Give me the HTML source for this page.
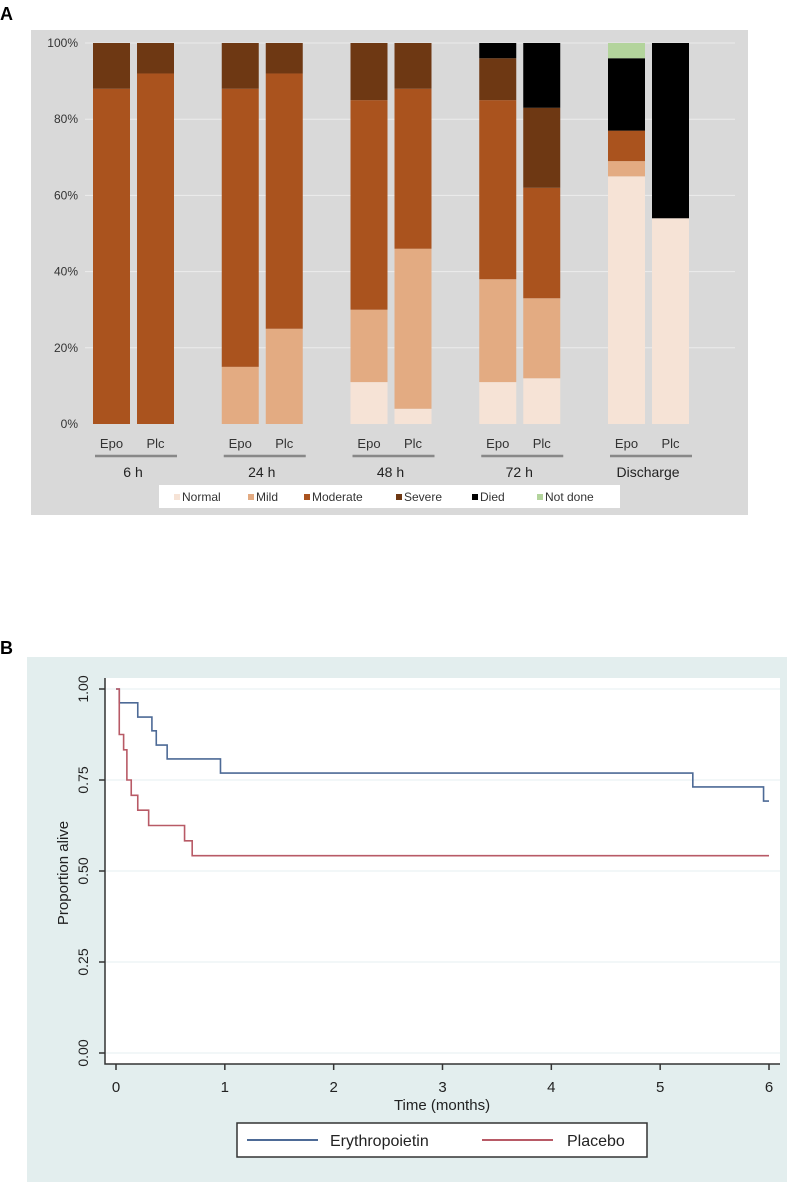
<!DOCTYPE html>
<html><head><meta charset="utf-8"><style>
body{margin:0;background:#fff;width:787px;height:1182px;overflow:hidden;font-family:"Liberation Sans",Arial,sans-serif}
svg{position:absolute;left:0;top:0}
</style></head><body>
<svg width="787" height="1182" id="fig">
<text x="0" y="20" font-size="18" font-weight="bold">A</text>
<rect x="31" y="30" width="717" height="485" fill="#d9d9d9"/>
<g id="gA"></g>
<rect x="159" y="485" width="461" height="23" fill="#fff"/>
<g id="legA"></g>
<text x="0" y="654" font-size="18" font-weight="bold">B</text>
<rect x="27" y="657" width="760" height="525" fill="#e3eeee"/>
<rect x="105" y="678" width="675" height="386" fill="#fff"/>
<g id="gB"></g>
<rect x="237" y="1123" width="410" height="34" fill="#fff" stroke="#333" stroke-width="1.5"/>
<line x1="247" y1="1140" x2="318" y2="1140" stroke="#4d6a96" stroke-width="2"/>
<text x="330" y="1146" font-size="16" fill="#222">Erythropoietin</text>
<line x1="482" y1="1140" x2="553" y2="1140" stroke="#b85a66" stroke-width="2"/>
<text x="567" y="1146" font-size="16" fill="#222">Placebo</text>
<text x="442" y="1110" font-size="15" text-anchor="middle" fill="#222">Time (months)</text>
<text transform="translate(68,873) rotate(-90)" font-size="15" text-anchor="middle" fill="#222">Proportion alive</text>
</svg>
<script>
// Panel A data
const groups=["6 h","24 h","48 h","72 h","Discharge"];
const arms=["Epo","Plc"];
const catNames=["Normal","Mild","Moderate","Severe","Died","Not done"];
const catColors=["#f6e3d6","#e3ab82","#aa531e","#6e3813","#000000","#b3d49c"];
// percentages per bar in order: 6h Epo, 6h Plc, 24h Epo, ...
const normalPct=[0,0,0,0,11,4,11,12,65,54];
const mildPct=[0,0,15,25,19,42,27,21,4,0];
const moderatePct=[88,92,73,67,55,42,47,29,8,0];
const severePct=[12,8,12,8,15,12,11,21,0,0];
const diedPct=[0,0,0,0,0,0,4,17,19,46];
const notDonePct=[0,0,0,0,0,0,0,0,4,0];
const yTicksA=["0%","20%","40%","60%","80%","100%"];
// Panel B data
const epoT=[0,0.03,0.2,0.33,0.37,0.47,0.96,5.3,5.95,6];
const epoS=[1,0.962,0.923,0.885,0.846,0.808,0.769,0.731,0.692,0.692];
const plcT=[0,0.03,0.07,0.1,0.14,0.2,0.3,0.63,0.7,6];
const plcS=[1,0.875,0.833,0.75,0.708,0.667,0.625,0.583,0.542,0.542];
const xTicksB=["0","1","2","3","4","5","6"];
const yTicksB=["0.00","0.25","0.50","0.75","1.00"];

const NS="http://www.w3.org/2000/svg";
function mk(tag,attrs,parent){const e=document.createElementNS(NS,tag);for(const k in attrs)e.setAttribute(k,attrs[k]);parent.appendChild(e);return e;}
const gA=document.getElementById('gA');
const yA=p=>424-p*3.81;
const barX=i=>93+Math.floor(i/2)*128.75+(i%2)*44;
yTicksA.forEach((t,i)=>{
 const v=i*20;
 if(i>0){const l=mk('line',{x1:85,x2:735,y1:yA(v),y2:yA(v),stroke:'#ececec','stroke-width':1},gA);
 }
 const tx=mk('text',{x:78,y:yA(v)+4,'font-size':12,'text-anchor':'end',fill:'#333'},gA);tx.textContent=t;
 
});
const series=[normalPct,mildPct,moderatePct,severePct,diedPct,notDonePct];
for(let i=0;i<10;i++){
 let cum=0;
 series.forEach((s,c)=>{
  if(s[i]>0){const r=mk('rect',{x:barX(i),y:yA(cum+s[i]),width:37,height:yA(cum)-yA(cum+s[i]),fill:catColors[c]},gA);
  }
  cum+=s[i];
 });
 const t=mk('text',{x:barX(i)+18.5,y:448,'font-size':13,'text-anchor':'middle',fill:'#333'},gA);t.textContent=arms[i%2];
 
}
groups.forEach((g,j)=>{
 const x0=barX(j*2);
 const l=mk('line',{x1:x0+2,x2:x0+84,y1:456,y2:456,stroke:'#888','stroke-width':2.5},gA);
 
 const t=mk('text',{x:x0+40,y:477,'font-size':14,'text-anchor':'middle',fill:'#222'},gA);t.textContent=g;
 
});
const legA=document.getElementById('legA');
const legX=[174,248,304,396,472,537];
catNames.forEach((n,c)=>{
 const r=mk('rect',{x:legX[c],y:494,width:6,height:6,fill:catColors[c]},legA);
 
 const t=mk('text',{x:legX[c]+8,y:501,'font-size':12,fill:'#333'},legA);t.textContent=n;
 
});
// Panel B
const gB=document.getElementById('gB');
const xB=t=>116+t*(769-116)/6;
const yB=s=>1053-s*(1053-689);
yTicksB.forEach((t,i)=>{
 const v=i*0.25;
 const g=mk('line',{x1:106,x2:780,y1:yB(v),y2:yB(v),stroke:'#e6eff2','stroke-width':1},gB);
 
 const tk=mk('line',{x1:99,x2:105,y1:yB(v),y2:yB(v),stroke:'#333','stroke-width':1.5},gB);
 
 const tx=mk('text',{transform:`translate(88,${yB(v)}) rotate(-90)`,'font-size':14,'text-anchor':'middle',fill:'#222'},gB);tx.textContent=t;
 
});
xTicksB.forEach((t,i)=>{
 const tk=mk('line',{x1:xB(i),x2:xB(i),y1:1064,y2:1070,stroke:'#333','stroke-width':1.5},gB);
 
 const tx=mk('text',{x:xB(i),y:1092,'font-size':15,'text-anchor':'middle',fill:'#222'},gB);tx.textContent=t;
 
});
const ax=mk('path',{d:'M105,678 V1064 H780',fill:'none',stroke:'#333','stroke-width':1.5},gB);

function step(T,S){let d=`M${xB(T[0])},${yB(S[0])}`;for(let i=1;i<T.length;i++){d+=` H${xB(T[i])} V${yB(S[i])}`;}return d;}
const pe=mk('path',{d:step(epoT,epoS),fill:'none',stroke:'#4d6a96','stroke-width':1.6},gB);

const pp=mk('path',{d:step(plcT,plcS),fill:'none',stroke:'#b85a66','stroke-width':1.6},gB);

</script>
</body></html>
